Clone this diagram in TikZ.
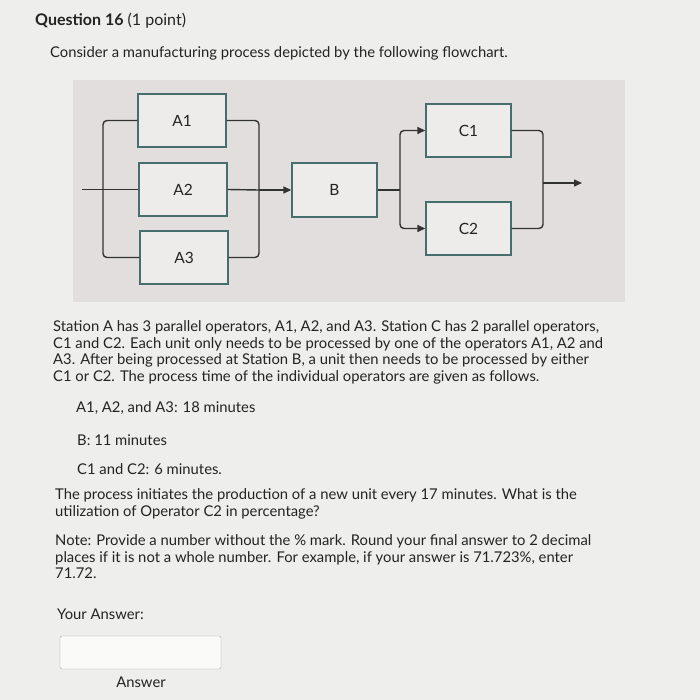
\documentclass[tikz,border=0pt]{standalone}
\usepackage{fontspec}
\setmainfont{Lato}
\usetikzlibrary{arrows.meta}
\definecolor{pagebg}{RGB}{238,238,236}
\definecolor{panel}{RGB}{226,222,222}
\definecolor{boxline}{RGB}{70,110,108}
\definecolor{txt}{RGB}{35,35,35}
\definecolor{linec}{RGB}{50,50,50}
\tikzset{
  stbox/.style={draw=boxline,line width=1.4pt,fill=panel!60!white,minimum width=88pt,minimum height=53pt,inner sep=0pt,font=\fontsize{15.5}{18}\selectfont,text=txt},
  conn/.style={draw=linec,line width=1.4pt,rounded corners=4pt},
  arr/.style={conn,-{Triangle[length=8pt,width=7pt]}},
  body/.style={anchor=base west,inner sep=0pt,font=\fontsize{14.8}{17}\selectfont,text=txt},
}
\begin{document}
\begin{tikzpicture}[x=1pt,y=-1pt]
\useasboundingbox (0,0) rectangle (700,700);
\fill[pagebg] (0,0) rectangle (700,700);
\fill[panel] (73,80) rectangle (625,302);
% boxes
\node[stbox] (A1) at (182,120.5) {A1};
\node[stbox] (A2) at (183,189.5) {A2};
\node[stbox] (A3) at (184,257.5) {A3};
\node[stbox,minimum width=85pt,minimum height=54pt] (B) at (334.5,190) {B};
\node[stbox,minimum width=85pt] (C1) at (468.5,130.5) {C1};
\node[stbox,minimum width=85pt] (C2) at (468.5,228.5) {C2};
\coordinate (in) at (82,189.5);
\coordinate (jl) at (103,189.5);
\coordinate (jr) at (259,190);
\coordinate (jb) at (400,190);
\coordinate (jc) at (543,183);
\coordinate (out) at (582,183);
% station A input
\draw[conn] (in) -- (A2.west);
\draw[conn] (A1.west) -| (jl) |- (A3.west);
% station A output
\draw[conn] (A1.east) -| (jr) |- (A3.east);
\draw[conn] (A2.east) -- (jr);
\draw[arr] (jr) -- (B.west);
% to C
\draw[conn] (B.east) -- (jb);
\draw[arr] (jb) |- (C1.west);
\draw[arr] (jb) |- (C2.west);
\draw[conn] (C1.east) -| (jc) |- (C2.east);
\draw[arr] (jc) -- (out);
% text
\node[body,font=\fontsize{16}{19}\selectfont] (q) at (35,26) {\textbf{Question 16} (1 point)};
\node[body] (t0) at (50,58) {Consider a manufacturing process depicted by the following flowchart.};
\node[body] (t1) at (53,331) {Station A has 3 parallel operators, A1, A2, and A3. Station C has 2 parallel operators,};
\node[body] (t2) at (53,348) {C1 and C2. Each unit only needs to be processed by one of the operators A1, A2 and};
\node[body] (t3) at (53,364) {A3. After being processed at Station B, a unit then needs to be processed by either};
\node[body] (t4) at (53,381) {C1 or C2. The process time of the individual operators are given as follows.};
\node[body] (t5) at (76,412) {A1, A2, and A3: 18 minutes};
\node[body] (t6) at (77,445) {B: 11 minutes};
\node[body] (t7) at (77,474) {C1 and C2: 6 minutes.};
\node[body] (t8) at (55,499) {The process initiates the production of a new unit every 17 minutes. What is the};
\node[body] (t9) at (55,516) {utilization of Operator C2 in percentage?};
\node[body] (t10) at (55,545) {Note: Provide a number without the \% mark. Round your final answer to 2 decimal};
\node[body] (t11) at (55,562) {places if it is not a whole number. For example, if your answer is 71.723\%, enter};
\node[body] (t12) at (55,578) {71.72.};
\node[body] (t13) at (57,619) {Your Answer:};
\node[draw=gray!70,fill=white!70!pagebg,rounded corners=2pt,minimum width=161pt,minimum height=33pt,inner sep=0pt] (ans) at (140.5,652.5) {};
\node[body,anchor=base] (t14) at (141,687) {Answer};
\end{tikzpicture}
\end{document}
